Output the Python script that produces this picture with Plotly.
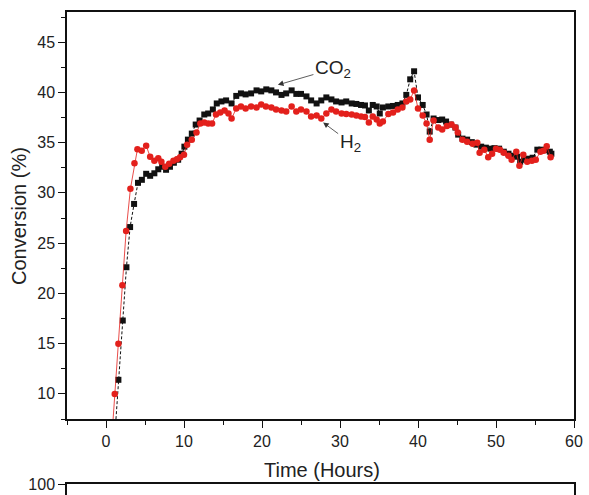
import plotly.graph_objects as go

# ---------------- data ----------------
co2_time = [1.1, 1.59, 2.15, 2.62, 3.09, 3.6, 4.1, 4.6, 5.15, 5.66, 6.2, 6.7, 7.2, 7.7, 8.2, 8.7,
            9.25, 9.7, 10.05, 10.5, 11.0, 11.5, 12.0, 12.6, 13.1, 13.7, 14.2, 14.8, 15.4, 16.1,
            16.7, 17.3, 17.9, 18.6, 19.3, 19.9, 20.55, 21.2, 21.8, 22.5, 23.1, 23.8, 24.4, 25.0,
            25.7, 26.3, 27.0, 27.6, 28.25, 28.9, 29.5, 30.2, 30.8, 31.5, 32.1, 32.7, 33.2, 33.7,
            34.2, 34.7, 35.1, 35.5, 36.2, 36.8, 37.4, 38.0, 38.5, 39.0, 39.5, 40.0, 40.6, 41.1,
            41.5, 42.0, 42.6, 43.1, 43.6, 44.2, 44.8, 45.15, 45.7, 46.3, 46.9, 47.5, 48.1, 48.7,
            49.3, 49.8, 50.4, 51.0, 51.6, 52.2, 52.7, 53.1, 53.6, 54.2, 54.7, 55.3, 55.8, 56.4,
            56.9, 57.1]
co2_conv = [5.5, 11.4, 17.3, 22.6, 26.6, 28.9, 31.0, 31.3, 31.9, 31.7, 31.95, 32.35, 32.6, 32.3, 32.6, 33.0,
            33.3, 33.9, 34.6, 35.3, 35.9, 36.8, 37.2, 37.8, 37.9, 38.3, 38.9, 39.1, 39.2, 38.9,
            39.65, 39.9, 39.8, 39.9, 40.2, 40.1, 40.3, 40.2, 40.0, 39.75, 39.9, 40.2, 39.85, 39.85,
            39.6, 39.2, 38.9, 39.2, 39.5, 39.3, 39.1, 39.0, 39.1, 38.9, 38.85, 38.75, 38.7, 38.2,
            38.75, 38.6, 37.9, 38.5, 38.6, 38.65, 38.75, 38.9, 39.75, 41.3, 42.1, 39.5, 38.75, 37.8,
            36.1, 37.4, 37.25, 37.3, 37.1, 36.8, 36.5, 35.8, 35.4, 35.3, 35.05, 34.8, 34.6, 34.5,
            34.4, 34.45, 34.4, 34.1, 33.9, 33.7, 33.6, 33.1, 33.3, 33.4, 33.5, 34.3, 34.3, 34.25,
            34.1, 33.9]

h2_time = [0.6, 1.12, 1.59, 2.1, 2.58, 3.13, 3.65, 4.03, 4.58, 5.15, 5.66, 6.2, 6.7, 7.1, 7.6, 8.1,
           8.65, 9.1, 9.5, 10.0, 10.4, 11.0, 11.6, 12.1, 12.6, 13.1, 13.6, 14.1, 14.65, 15.2,
           15.7, 16.1, 16.7, 17.3, 17.9, 18.6, 19.3, 19.9, 20.5, 21.2, 21.8, 22.5, 23.1, 23.8,
           24.4, 25.0, 25.7, 26.3, 27.0, 27.6, 28.25, 28.9, 29.5, 30.2, 30.8, 31.5, 32.1, 32.7,
           33.2, 33.7, 34.2, 34.7, 35.1, 35.5, 36.2, 36.8, 37.4, 38.0, 38.5, 39.0, 39.5, 40.0,
           40.6, 41.1, 41.5, 42.0, 42.6, 43.1, 43.7, 44.3, 44.8, 45.1, 45.7, 46.3, 47.0, 47.6,
           47.9, 48.5, 49.0, 49.5, 50.0, 50.5, 51.0, 51.6, 52.0, 52.6, 53.0, 53.5, 54.0, 54.6,
           55.1, 55.7, 56.1, 56.5, 57.0]
h2_conv = [4.0, 10.0, 15.0, 20.8, 26.2, 30.4, 32.95, 34.35, 34.2, 34.7, 33.6, 33.2, 33.45, 33.1, 32.6, 32.9,
           33.2, 33.35, 33.55, 33.8, 34.8, 35.3, 36.0, 36.9, 37.0, 36.9, 36.9, 37.8, 38.0, 38.2,
           37.9, 37.4, 38.4, 38.6, 38.4, 38.6, 38.5, 38.8, 38.6, 38.5, 38.3, 38.2, 38.1, 38.6,
           38.1, 38.3, 38.1, 37.6, 37.7, 37.4, 37.9, 38.3, 38.1, 37.9, 37.85, 37.8, 37.7, 37.6,
           37.55, 37.0, 37.6, 37.3, 36.9, 37.1, 37.85, 38.0, 38.3, 38.5, 39.1, 39.3, 40.2, 38.4,
           37.7, 36.9, 35.3, 37.2, 36.5, 36.3, 36.65, 36.8, 36.5, 36.0, 35.3, 35.1, 34.9, 35.0,
           34.0, 34.3, 33.55, 33.9, 34.4, 34.3, 34.0, 33.7, 33.3, 34.1, 32.7, 33.8, 33.1, 33.2,
           33.3, 34.1, 34.2, 34.65, 33.55]

x_range = [-5, 60]
y_range = [7.5, 48]
x_title = "Time (Hours)"
y_title = "Conversion (%)"
lower_panel_top_tick = [100]
lower_panel_range = [96.5, 100]

FONT = "Liberation Sans, Arial, sans-serif"
RED = "#e3201c"

fig = go.Figure()
fig.add_trace(go.Scatter(
    x=co2_time, y=co2_conv, mode="lines+markers", name="CO2",
    marker=dict(symbol="square", size=6, color="#111111"),
    line=dict(color="#111111", width=1, dash="3px,2px"),
    xaxis="x", yaxis="y", showlegend=False))
fig.add_trace(go.Scatter(
    x=h2_time, y=h2_conv, mode="lines+markers", name="H2",
    marker=dict(symbol="circle", size=6.5, color=RED),
    line=dict(color=RED, width=0.8),
    xaxis="x", yaxis="y", showlegend=False))
# empty trace so the lower (cropped) panel is drawn
fig.add_trace(go.Scatter(x=[None], y=[None], mode="markers", xaxis="x2", yaxis="y2",
                         showlegend=False, hoverinfo="skip"))

axis_common = dict(showline=True, linecolor="#111111", linewidth=1.5, showgrid=False,
                   zeroline=False, tickfont=dict(family=FONT, size=16, color="#222222"),
                   ticks="outside", tickcolor="#111111", tickwidth=1.3, ticklen=7)

main_bottom = (495 - 419) / 483
lower_top = 11 / 483

fig.update_layout(
    width=589, height=495,
    margin=dict(l=67, r=15, t=12, b=0, pad=0),
    paper_bgcolor="white", plot_bgcolor="white",
    font=dict(family=FONT, color="#222222"),
    xaxis=dict(domain=[0, 1], range=x_range, anchor="y", mirror=True,
               tickmode="linear", tick0=0, dtick=10,
               minor=dict(dtick=5, tick0=0, ticks="outside", ticklen=4,
                          tickcolor="#111111", tickwidth=1.2, showgrid=False),
               **axis_common),
    yaxis=dict(domain=[main_bottom, 1], range=y_range, anchor="x", mirror=True,
               tickmode="linear", tick0=0, dtick=5,
               minor=dict(dtick=2.5, tick0=0, ticks="outside", ticklen=4,
                          tickcolor="#111111", tickwidth=1.2, showgrid=False),
               **axis_common),
    xaxis2=dict(domain=[0, 1], range=x_range, anchor="y2", side="top",
                showline=True, linecolor="#111111", linewidth=1.5, showgrid=False,
                zeroline=False, ticks="", showticklabels=False),
    yaxis2=dict(domain=[0, lower_top], range=lower_panel_range, anchor="x2", mirror=True,
                tickmode="array", tickvals=lower_panel_top_tick, **axis_common),
)

annotations = [
    dict(x=22.04, y=40.75, xref="x", yref="y", text="CO<sub>2</sub>",
         showarrow=True, ax=55, ay=-16, arrowhead=2, arrowsize=1.4, arrowwidth=0.8,
         arrowcolor="#333333", font=dict(family=FONT, size=19, color="#222222")),
    dict(x=27.84, y=37.0, xref="x", yref="y", text="H<sub>2</sub>",
         showarrow=True, ax=27, ay=20, arrowhead=2, arrowsize=1.4, arrowwidth=0.8,
         arrowcolor="#333333", font=dict(family=FONT, size=19, color="#222222")),
    dict(x=(322 - 67) / 507, y=(495 - 470) / 483, xref="paper", yref="paper",
         text=x_title, showarrow=False, xanchor="center", yanchor="middle",
         font=dict(family=FONT, size=20, color="#222222")),
    dict(x=(19 - 67) / 507, y=(495 - 216) / 483, xref="paper", yref="paper",
         text=y_title, showarrow=False, textangle=-90, xanchor="center", yanchor="middle",
         font=dict(family=FONT, size=20, color="#222222")),
]
fig.update_layout(annotations=annotations)

fig.write_html("out.html")
